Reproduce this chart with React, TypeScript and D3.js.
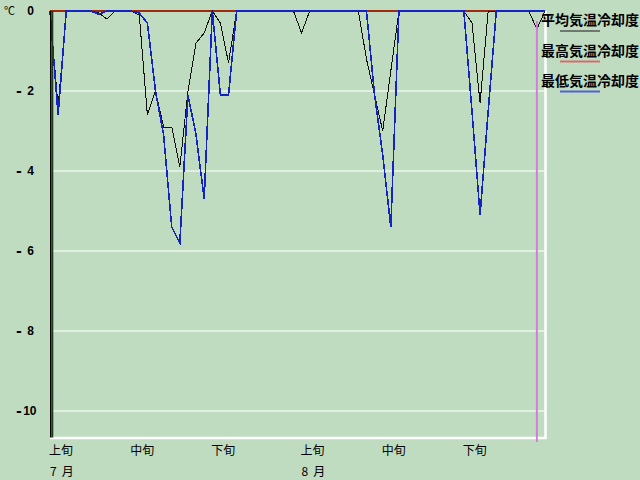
import React from "react";
import * as d3 from "d3";

// Daily values, 1 Jul .. 31 Aug (62 days)
const startDate = "2000-07-01";
const avgCooling = [
  0, -2.4, 0, 0, 0, 0, -0.05, -0.2, 0, 0,
  0, -0.1, -2.6, -2.0, -2.9, -2.9, -3.9, -2.0, -0.8, -0.55,
  0, -0.3, -1.3, 0, 0, 0, 0, 0, 0, 0,
  0, -0.55, 0, 0, 0, 0, 0, 0, 0, -1.2,
  -2.1, -3.0, -1.5, 0, 0, 0, 0, 0, 0, 0,
  0, 0, -0.3, -2.3, 0, 0, 0, 0, 0, 0,
  -0.45, 0,
];
const maxCooling = [
  0, 0, 0, 0, 0, 0, 0, 0, 0, 0,
  0, 0, 0, 0, 0, 0, 0, 0, 0, 0,
  0, 0, 0, 0, 0, 0, 0, 0, 0, 0,
  0, 0, 0, 0, 0, 0, 0, 0, 0, 0,
  0, 0, 0, 0, 0, 0, 0, 0, 0, 0,
  0, 0, 0, 0, 0, 0, 0, 0, 0, 0,
  0, 0,
];
const minCooling = [
  0, -2.6, 0, 0, 0, 0, -0.08, 0, 0, 0,
  0, -0.05, -0.3, -2.0, -3.1, -5.4, -5.8, -2.1, -3.1, -4.7,
  0, -2.1, -2.1, 0, 0, 0, 0, 0, 0, 0,
  0, 0, 0, 0, 0, 0, 0, 0, 0, 0,
  -2.1, -3.6, -5.4, 0, 0, 0, 0, 0, 0, 0,
  0, 0, -2.5, -5.1, -2.5, 0, 0, 0, 0, 0,
  0, 0,
];
const seriesNames = ["平均気温冷却度", "最高気温冷却度", "最低気温冷却度"];
const yTicks = [0, -2, -4, -6, -8, -10];
const periodTickDates = ["2000-07-01", "2000-07-11", "2000-07-21", "2000-08-01", "2000-08-11", "2000-08-21"];
const periodLabels = ["上旬", "中旬", "下旬", "上旬", "中旬", "下旬"];
const monthTickDates = ["2000-07-01", "2000-08-01"];
const monthNumbers = ["7", "8"];
const monthSuffix = "月";
const markerDate = "2000-08-30";

const W = 640;
const H = 480;
const BG = "#c0dcc0";
const JP = "'Noto Sans CJK JP', 'Noto Sans', sans-serif";

export default function App() {
  const parse = (s: string) => new Date(s + "T00:00:00Z");
  const start = parse(startDate);
  const dates = avgCooling.map((_, i) => d3.utcDay.offset(start, i));
  const x = d3
    .scaleUtc()
    .domain([dates[0], dates[dates.length - 1]])
    .range([50, 545]);
  const y = d3.scaleLinear().domain([0, -10.65]).range([11, 437]);

  const mk = (vals: number[]) =>
    d3
      .line<number>()
      .x((_, i) => x(dates[i]))
      .y((v) => y(v))(vals) || "";

  const plotL = 50;
  const plotR = 545;
  const plotT = 11;
  const plotB = 437.5;

  const legendColors = ["#6f786f", "#d46e6e", "#5262d4"];
  const legendY = [20, 50.5, 80.5];

  return (
    <div style={{ position: "fixed", left: 0, top: 0, width: W, height: H }}>
      <svg width={W} height={H} style={{ display: "block" }}>
        <rect x={0} y={0} width={W} height={H} fill={BG} />
        {/* gridlines */}
        {yTicks
          .filter((t) => t !== 0)
          .map((t) => (
            <line
              key={t}
              x1={plotL}
              x2={plotR}
              y1={y(t)}
              y2={y(t)}
              stroke="#eef7ee"
              strokeWidth={1.6}
            />
          ))}
        {/* right & bottom white borders */}
        <line x1={plotR + 0.5} x2={plotR + 0.5} y1={plotT} y2={plotB + 1} stroke="#ffffff" strokeWidth={2.5} />
        <line x1={plotL} x2={plotR + 1.5} y1={plotB + 0.5} y2={plotB + 0.5} stroke="#ffffff" strokeWidth={2.5} />

        {/* series */}
        <path d={mk(maxCooling)} fill="none" stroke="#a02a10" strokeWidth={1.2} shapeRendering="crispEdges" />
        <path d={mk(avgCooling)} fill="none" stroke="#101010" strokeWidth={1} shapeRendering="crispEdges" />
        <path d={mk(minCooling)} fill="none" stroke="#1424c4" strokeWidth={1.6} shapeRendering="crispEdges" />

        {/* marker line */}
        <line
          x1={x(parse(markerDate))}
          x2={x(parse(markerDate))}
          y1={21}
          y2={442}
          stroke="#d27fd6"
          strokeWidth={2}
        />

        {/* y axis (dark, shaded) */}
        <rect x={50} y={plotT} width={1.5} height={plotB - plotT} fill="#000000" />
        <rect x={51.5} y={plotT} width={1.8} height={plotB - plotT} fill="#1f3a1f" />

        {/* y labels */}
        <text x={4} y={15} fontFamily={JP} fontSize={11} fill="#000">
          ℃
        </text>
        {yTicks.map((t) => {
          const a = Math.abs(t);
          return (
            <g key={t} fontFamily="'DejaVu Sans', sans-serif" fontWeight="bold" fill="#000">
              {t < 0 && (
                <text x={16} y={y(t) + 4.5} fontSize={14}>
                  -
                </text>
              )}
              <text
                x={a >= 10 ? 36.5 : 34}
                y={y(t) + 4}
                textAnchor="end"
                fontFamily="'Liberation Sans', Arial, sans-serif"
                fontSize={12}
              >
                {a}
              </text>
            </g>
          );
        })}

        {/* x labels */}
        {periodTickDates.map((d, i) => (
          <text key={"p" + i} x={x(parse(d)) - 1} y={455} fontFamily={JP} fontSize={12} fill="#000">
            {periodLabels[i]}
          </text>
        ))}
        {monthTickDates.map((d, i) => (
          <text key={"m" + i} x={x(parse(d))} y={476} fontFamily={JP} fontSize={12} fill="#000">
            <tspan>{monthNumbers[i]}</tspan>
            <tspan dx={5}>{monthSuffix}</tspan>
          </text>
        ))}

        {/* legend */}
        {seriesNames.map((n, i) => (
          <g key={n}>
            <text x={541} y={legendY[i] + 5.3} fontFamily={JP} fontWeight="bold" fontSize={14} fill="#000">
              {n}
            </text>
            <line
              x1={560}
              x2={600}
              y1={legendY[i] + 11}
              y2={legendY[i] + 11}
              stroke={legendColors[i]}
              strokeWidth={2}
            />
          </g>
        ))}
      </svg>
    </div>
  );
}
